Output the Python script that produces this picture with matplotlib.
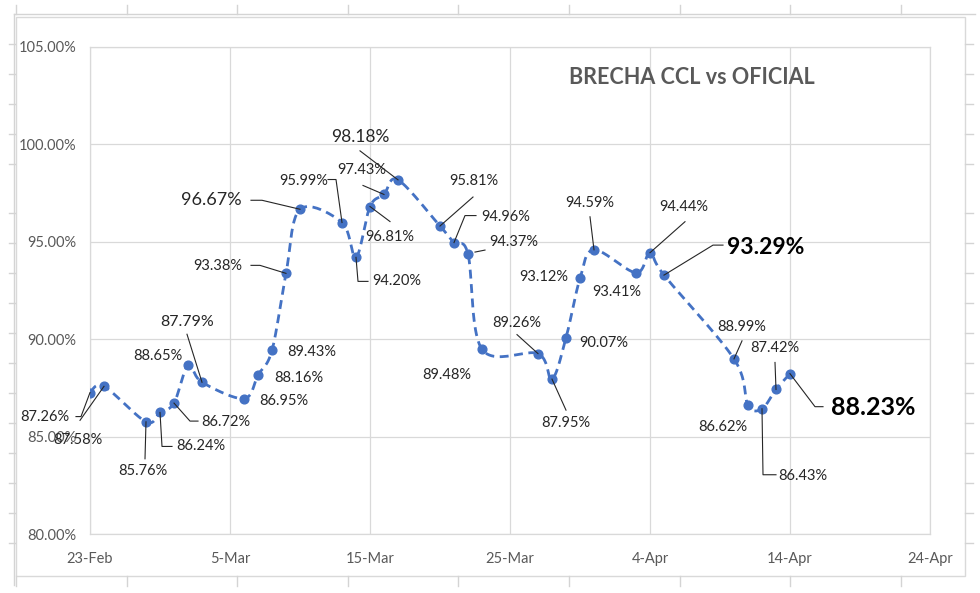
import numpy as np
import matplotlib
matplotlib.use("Agg")
import matplotlib.pyplot as plt
import matplotlib.dates as mdates
from matplotlib.lines import Line2D
from matplotlib.patches import Rectangle

plt.rcParams["font.family"] = ["Lato", "DejaVu Sans"]

# --- data -------------------------------------------------------------
DATES = [
    "2023-02-23", "2023-02-24", "2023-02-27", "2023-02-28", "2023-03-01",
    "2023-03-02", "2023-03-03", "2023-03-06", "2023-03-07", "2023-03-08",
    "2023-03-09", "2023-03-10", "2023-03-13", "2023-03-14", "2023-03-15",
    "2023-03-16", "2023-03-17", "2023-03-20", "2023-03-21", "2023-03-22",
    "2023-03-23", "2023-03-27", "2023-03-28", "2023-03-29", "2023-03-30",
    "2023-03-31", "2023-04-03", "2023-04-04", "2023-04-05", "2023-04-10",
    "2023-04-11", "2023-04-12", "2023-04-13", "2023-04-14",
]
BRECHA = [
    87.26, 87.58, 85.76, 86.24, 86.72,
    88.65, 87.79, 86.95, 88.16, 89.43,
    93.38, 96.67, 95.99, 94.20, 96.81,
    97.43, 98.18, 95.81, 94.96, 94.37,
    89.48, 89.26, 87.95, 90.07, 93.12,
    94.59, 93.41, 94.44, 93.29, 88.99,
    86.62, 86.43, 87.42, 88.23,
]
Y_TICKS = [80, 85, 90, 95, 100, 105]
X_START, X_END = "2023-02-23", "2023-04-24"
TITLE = "BRECHA CCL vs OFICIAL"

# --- label layout (pixel offsets from the point, y downwards) ----------
LABEL_OFFSETS = [
    (-45, 24), (-26, 54), (-3, 49), (41, 34), (52, 19),
    (-30, -9), (-15, -60), (40, 2), (41, 3), (40, 2),
    (-68, -7), (-89, -9), (-38, -42), (41, 24), (20, 30),
    (-22, -24), (-38, -43), (34, -45), (52, -26), (46, -12),
    (-35, 26), (-21, -31), (14, 44), (38, 5), (-36, -1),
    (-4, -47), (-19, 19), (34, -46), (102, -28), (8, -32),
    (-25, 22), (41, 67), (-1, -41), (83, 34),
]
LEADERS = {
    0: [(-14, 24), (-9, 24), (0, 0)],
    1: [(-24, 34), (0, 0)],
    2: [(-1, 37), (0, 0)],
    3: [(12, 34), (2, 34), (0, 0)],
    4: [(24, 18), (16, 18), (0, 0)],
    6: [(-15, -48), (0, 0)],
    10: [(-35, -8), (-26, -8), (0, 0)],
    11: [(-49, -9), (-38, -9), (0, 0)],
    12: [(-14, -43), (-6, -43), (0, 0)],
    13: [(12, 24), (2, 24), (0, 0)],
    14: [(20, 15), (0, 0)],
    15: [(-21, -9), (0, 0)],
    16: [(-38, -29), (0, 0)],
    17: [(33, -29), (0, 0)],
    18: [(22, -27), (11, -27), (0, 0)],
    19: [(17, -4), (7, -2)],
    21: [(-21, -19), (0, 0)],
    22: [(14, 31), (0, 0)],
    25: [(-4, -33), (0, 0)],
    27: [(35, -31), (0, 0)],
    28: [(59, -30), (49, -30), (0, 0)],
    29: [(8, -18), (0, 0)],
    31: [(14, 66), (1, 66), (0, 0)],
    32: [(-1, -27), (0, 0)],
    33: [(33, 33), (25, 33), (0, 0)],
}
LABEL_SIZES = {6: 11.5, 11: 13, 16: 12.5, 28: 16.5, 33: 18}
LABEL_BOLD = {28, 33}

BLUE = "#4472C4"
GRID = "#d9d9d9"
TICK_GRAY = "#595959"
W, H = 980, 593


def smooth_curve(x, y, n=24):
    # Excel-style smoothed line (Catmull-Rom as cubic Bezier segments)
    p = np.column_stack([x, y])
    pe = np.vstack([p[0], p, p[-1]])
    t = np.linspace(0, 1, n, endpoint=False)[:, None]
    segs = []
    for i in range(len(p) - 1):
        p0, p1, p2, p3 = pe[i], pe[i + 1], pe[i + 2], pe[i + 3]
        c1 = p1 + (p2 - p0) / 6
        c2 = p2 - (p3 - p1) / 6
        segs.append((1 - t) ** 3 * p1 + 3 * (1 - t) ** 2 * t * c1
                    + 3 * (1 - t) * t ** 2 * c2 + t ** 3 * p2)
    segs.append(p[-1:])
    return np.vstack(segs)


def fpx(x, y):
    return x / W, 1 - y / H


x = mdates.date2num(np.array(DATES, dtype="datetime64[D]"))
y = np.array(BRECHA)
x0 = mdates.date2num(np.datetime64(X_START))
x1 = mdates.date2num(np.datetime64(X_END))

fig = plt.figure(figsize=(W / 100, H / 100), dpi=100)

# spreadsheet cell gridlines peeking out around the chart
sheet = "#d4d4d4"
fig.add_artist(Line2D(*zip(fpx(14, 14), fpx(975, 14)), color=sheet, lw=1))
fig.add_artist(Line2D(*zip(fpx(14, 14), fpx(14, 585)), color=sheet, lw=1))
for cx in 16 + 110.6 * np.arange(9):
    fig.add_artist(Line2D(*zip(fpx(cx, 5), fpx(cx, 14)), color=sheet, lw=1))
    fig.add_artist(Line2D(*zip(fpx(cx, 576), fpx(cx, 586)), color=sheet, lw=1))
rows = list(range(44, 165, 30)) + list(range(213, 560, 30))
for ry in rows:
    fig.add_artist(Line2D(*zip(fpx(9, ry), fpx(15, ry)), color=sheet, lw=1))
    fig.add_artist(Line2D(*zip(fpx(965, ry), fpx(973, ry)), color=sheet, lw=1))
fig.add_artist(Rectangle(fpx(16, 576), 949 / W, 559 / H, fill=False,
                         edgecolor=GRID, lw=1, transform=fig.transFigure))

ax = fig.add_axes([90 / W, 1 - 534 / H, 840 / W, 487 / H])
ax.set_xlim(x0, x1)
ax.set_ylim(Y_TICKS[0], Y_TICKS[-1])

ax.set_yticks(Y_TICKS)
ax.set_yticklabels([f"{v:.2f}%" for v in Y_TICKS])
xt = np.arange(x0, x1 + 1, 10)
ax.set_xticks(xt)
ax.set_xticklabels([f"{d.day}-{d.strftime('%b')}" for d in mdates.num2date(xt)])
ax.tick_params(axis="y", length=0, pad=10, labelsize=10.5, labelcolor=TICK_GRAY)
ax.tick_params(axis="x", length=0, pad=13, labelsize=10.5, labelcolor=TICK_GRAY)
ax.grid(True, color=GRID, lw=0.9)
ax.set_axisbelow(True)
for s in ax.spines.values():
    s.set_color(GRID)
    s.set_linewidth(0.9)

curve = smooth_curve(x, y)
ax.plot(curve[:, 0], curve[:, 1], color=BLUE, lw=2.0, dashes=(3.2, 2),
        solid_capstyle="butt", zorder=3)
ax.plot(x, y, "o", color=BLUE, ms=6.3, zorder=4)

# data labels and leader lines
inv = fig.transFigure.inverted()
for i, (xi, yi) in enumerate(zip(x, y)):
    dx, dy = LABEL_OFFSETS[i]
    size = LABEL_SIZES.get(i, 10.5)
    bold = i in LABEL_BOLD
    ax.annotate(f"{yi:.2f}%", xy=(xi, yi), xytext=(dx, -dy),
                textcoords="offset pixels", ha="center", va="center",
                fontsize=size, fontweight="bold" if bold else "normal",
                color="#000000" if bold else "#262626", zorder=5)
    if i in LEADERS:
        base = ax.transData.transform((xi, yi))
        verts = np.array([base + np.array([ox, -oy]) for ox, oy in LEADERS[i]])
        verts = inv.transform(verts)
        fig.add_artist(Line2D(verts[:, 0], verts[:, 1], color="#262626",
                              lw=0.8, zorder=5))

fig.text(692 / W, 1 - 77 / H, TITLE, ha="center", va="center",
         fontsize=15.5, fontweight="bold", color=TICK_GRAY)

fig.savefig("out.png", dpi=100, facecolor="white")
